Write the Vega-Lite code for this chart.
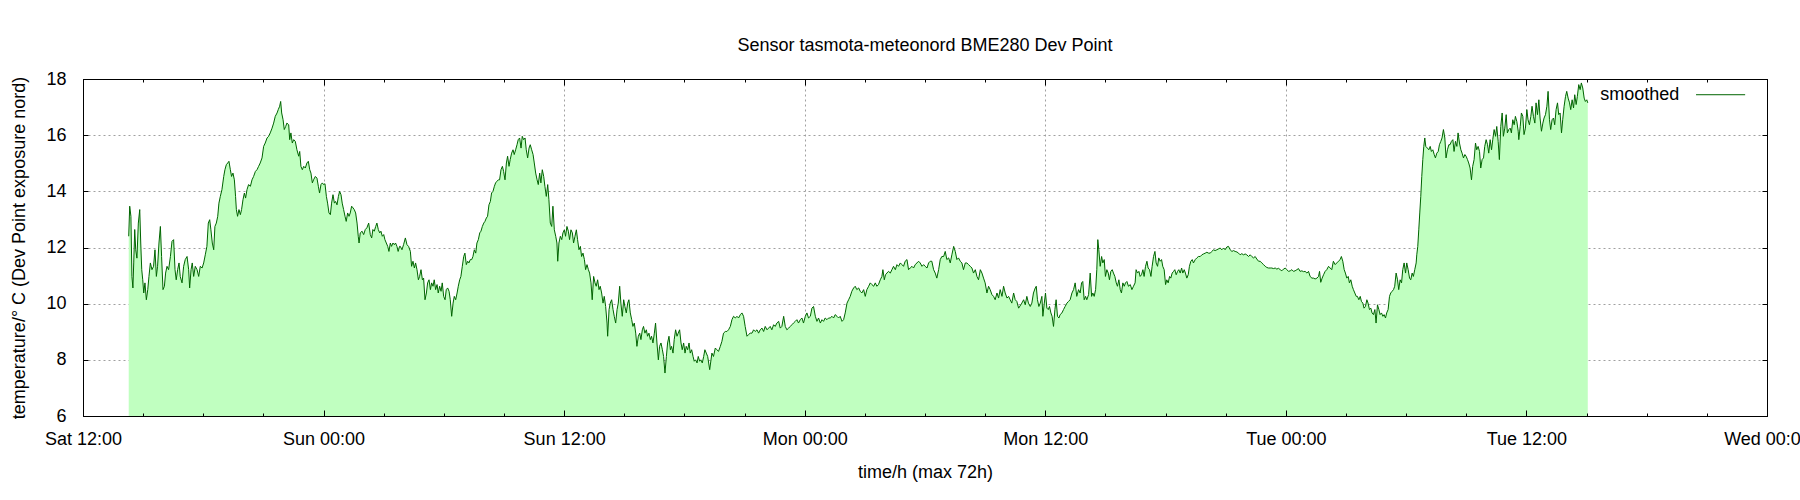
{
"$schema":"https://vega.github.io/schema/vega-lite/v6.json",
"width":1684,"height":337,
"autosize":{"type":"none"},
"padding":{"left":83,"top":79,"right":33,"bottom":84},
"background":"#ffffff",
"title":{"text":"Sensor tasmota-meteonord BME280 Dev Point","font":"Liberation Sans","fontSize":18,"fontWeight":"normal","color":"#000000","anchor":"middle","frame":"group","baseline":"alphabetic","offset":1},
"config":{
 "view":{"stroke":null},
 "font":"Liberation Sans",
 "axis":{"domainColor":"#000000","domainWidth":1,"tickColor":"#000000","tickWidth":1,"labelFont":"Liberation Sans","labelFontSize":18,"labelColor":"#000000","titleFont":"Liberation Sans","titleFontSize":18,"titleFontWeight":"normal","titleColor":"#000000","gridColor":"#a0a0a0","gridDash":[2,3],"gridWidth":1,"labelFlush":false,"labelOverlap":false,"labelBound":false}
},
"resolve":{"axis":{"x":"independent","y":"independent"}},
"data":{"values":[
{"h":2.28,"v":12.4},{"h":2.33,"v":13.47},{"h":2.39,"v":13.11},{"h":2.44,"v":10.97},{"h":2.49,"v":10.56},{"h":2.53,"v":11.45},{"h":2.58,"v":12.64},{"h":2.63,"v":11.92},{"h":2.69,"v":11.62},{"h":2.76,"v":12.87},{"h":2.83,"v":13.35},{"h":2.88,"v":12.16},{"h":2.93,"v":11.21},{"h":2.98,"v":10.85},{"h":3.03,"v":10.38},{"h":3.09,"v":10.74},{"h":3.16,"v":10.14},{"h":3.23,"v":10.5},{"h":3.29,"v":10.97},{"h":3.36,"v":11.45},{"h":3.44,"v":11.21},{"h":3.52,"v":11.33},{"h":3.59,"v":11.92},{"h":3.66,"v":10.97},{"h":3.72,"v":11.33},{"h":3.79,"v":12.16},{"h":3.86,"v":12.75},{"h":3.92,"v":11.68},{"h":3.99,"v":10.5},{"h":4.06,"v":10.62},{"h":4.12,"v":11.09},{"h":4.19,"v":11.33},{"h":4.27,"v":11.21},{"h":4.36,"v":11.68},{"h":4.44,"v":12.22},{"h":4.52,"v":12.28},{"h":4.59,"v":11.21},{"h":4.65,"v":10.85},{"h":4.72,"v":11.21},{"h":4.79,"v":11.45},{"h":4.85,"v":10.97},{"h":4.94,"v":10.74},{"h":5.02,"v":11.33},{"h":5.1,"v":11.57},{"h":5.19,"v":11.68},{"h":5.27,"v":11.21},{"h":5.32,"v":10.56},{"h":5.39,"v":11.21},{"h":5.45,"v":11.45},{"h":5.52,"v":10.97},{"h":5.6,"v":11.33},{"h":5.69,"v":11.21},{"h":5.77,"v":10.97},{"h":5.85,"v":11.33},{"h":5.94,"v":11.27},{"h":6.02,"v":11.45},{"h":6.1,"v":11.74},{"h":6.18,"v":12.04},{"h":6.25,"v":12.87},{"h":6.32,"v":12.99},{"h":6.38,"v":12.63},{"h":6.45,"v":12.16},{"h":6.52,"v":11.92},{"h":6.58,"v":12.75},{"h":6.65,"v":12.87},{"h":6.72,"v":13.11},{"h":6.78,"v":13.58},{"h":6.85,"v":13.82},{"h":6.93,"v":14.06},{"h":7.02,"v":14.53},{"h":7.08,"v":14.77},{"h":7.15,"v":14.95},{"h":7.22,"v":15.01},{"h":7.28,"v":15.07},{"h":7.35,"v":14.77},{"h":7.41,"v":14.53},{"h":7.48,"v":14.65},{"h":7.55,"v":14.41},{"h":7.61,"v":13.82},{"h":7.65,"v":13.35},{"h":7.71,"v":13.11},{"h":7.78,"v":13.35},{"h":7.85,"v":13.17},{"h":7.91,"v":13.35},{"h":7.98,"v":13.7},{"h":8.05,"v":13.94},{"h":8.11,"v":13.76},{"h":8.18,"v":14.06},{"h":8.26,"v":14.24},{"h":8.35,"v":14.18},{"h":8.43,"v":14.41},{"h":8.51,"v":14.53},{"h":8.6,"v":14.71},{"h":8.68,"v":14.77},{"h":8.76,"v":14.89},{"h":8.84,"v":15.01},{"h":8.93,"v":15.19},{"h":9.01,"v":15.6},{"h":9.09,"v":15.72},{"h":9.18,"v":15.9},{"h":9.26,"v":15.96},{"h":9.34,"v":16.08},{"h":9.43,"v":16.25},{"h":9.51,"v":16.43},{"h":9.59,"v":16.67},{"h":9.68,"v":16.79},{"h":9.74,"v":16.91},{"h":9.81,"v":17.03},{"h":9.86,"v":17.2},{"h":9.91,"v":16.79},{"h":9.98,"v":16.55},{"h":10.04,"v":16.2},{"h":10.11,"v":16.31},{"h":10.17,"v":16.43},{"h":10.26,"v":16.37},{"h":10.31,"v":15.84},{"h":10.37,"v":16.08},{"h":10.44,"v":15.72},{"h":10.51,"v":15.84},{"h":10.59,"v":15.78},{"h":10.67,"v":15.48},{"h":10.76,"v":15.25},{"h":10.81,"v":15.42},{"h":10.87,"v":14.89},{"h":10.94,"v":14.77},{"h":11.01,"v":14.89},{"h":11.09,"v":14.83},{"h":11.17,"v":15.01},{"h":11.24,"v":15.07},{"h":11.31,"v":14.77},{"h":11.37,"v":14.65},{"h":11.44,"v":14.3},{"h":11.5,"v":14.41},{"h":11.59,"v":14.53},{"h":11.67,"v":14.47},{"h":11.74,"v":14.18},{"h":11.8,"v":13.94},{"h":11.87,"v":14.24},{"h":11.94,"v":14.3},{"h":12.0,"v":14.24},{"h":12.07,"v":14.27},{"h":12.14,"v":13.82},{"h":12.2,"v":13.58},{"h":12.27,"v":13.23},{"h":12.34,"v":13.17},{"h":12.4,"v":13.58},{"h":12.47,"v":13.88},{"h":12.54,"v":13.58},{"h":12.6,"v":13.64},{"h":12.67,"v":13.52},{"h":12.74,"v":13.82},{"h":12.8,"v":14.0},{"h":12.87,"v":13.88},{"h":12.93,"v":13.58},{"h":13.0,"v":13.35},{"h":13.07,"v":13.11},{"h":13.13,"v":12.93},{"h":13.2,"v":13.23},{"h":13.27,"v":13.11},{"h":13.33,"v":13.23},{"h":13.4,"v":13.47},{"h":13.47,"v":13.41},{"h":13.53,"v":13.35},{"h":13.6,"v":13.23},{"h":13.67,"v":12.87},{"h":13.73,"v":12.4},{"h":13.77,"v":12.16},{"h":13.83,"v":12.52},{"h":13.92,"v":12.58},{"h":14.0,"v":12.46},{"h":14.08,"v":12.64},{"h":14.16,"v":12.7},{"h":14.25,"v":12.87},{"h":14.33,"v":12.46},{"h":14.4,"v":12.34},{"h":14.46,"v":12.64},{"h":14.53,"v":12.58},{"h":14.6,"v":12.75},{"h":14.66,"v":12.87},{"h":14.73,"v":12.64},{"h":14.8,"v":12.52},{"h":14.86,"v":12.58},{"h":14.93,"v":12.4},{"h":15.0,"v":12.46},{"h":15.06,"v":12.28},{"h":15.13,"v":12.16},{"h":15.2,"v":12.04},{"h":15.26,"v":11.86},{"h":15.33,"v":12.16},{"h":15.39,"v":12.04},{"h":15.46,"v":12.16},{"h":15.53,"v":12.1},{"h":15.59,"v":12.16},{"h":15.66,"v":12.04},{"h":15.72,"v":11.86},{"h":15.79,"v":12.04},
{"h":15.83,"v":12.04},{"h":15.91,"v":11.92},{"h":15.99,"v":12.1},{"h":16.08,"v":12.34},{"h":16.16,"v":12.1},{"h":16.24,"v":12.04},{"h":16.33,"v":11.86},{"h":16.39,"v":11.33},{"h":16.46,"v":11.51},{"h":16.53,"v":11.27},{"h":16.59,"v":11.45},{"h":16.66,"v":11.21},{"h":16.73,"v":10.85},{"h":16.79,"v":10.97},{"h":16.86,"v":11.21},{"h":16.93,"v":10.85},{"h":16.99,"v":10.91},{"h":17.06,"v":10.14},{"h":17.13,"v":10.38},{"h":17.19,"v":10.74},{"h":17.26,"v":10.85},{"h":17.33,"v":10.5},{"h":17.39,"v":10.74},{"h":17.46,"v":10.62},{"h":17.52,"v":10.85},{"h":17.59,"v":10.5},{"h":17.66,"v":10.68},{"h":17.72,"v":10.38},{"h":17.79,"v":10.62},{"h":17.86,"v":10.44},{"h":17.92,"v":10.74},{"h":17.99,"v":10.26},{"h":18.06,"v":10.14},{"h":18.12,"v":10.5},{"h":18.19,"v":10.56},{"h":18.26,"v":10.44},{"h":18.32,"v":10.14},{"h":18.39,"v":9.55},{"h":18.46,"v":10.02},{"h":18.52,"v":10.26},{"h":18.59,"v":10.14},{"h":18.66,"v":10.38},{"h":18.72,"v":10.62},{"h":18.79,"v":10.85},{"h":18.85,"v":10.97},{"h":18.92,"v":11.33},{"h":18.99,"v":11.68},{"h":19.05,"v":11.8},{"h":19.12,"v":11.39},{"h":19.19,"v":11.51},{"h":19.25,"v":11.45},{"h":19.32,"v":11.57},{"h":19.39,"v":11.57},{"h":19.45,"v":11.68},{"h":19.52,"v":11.92},{"h":19.59,"v":11.8},{"h":19.65,"v":12.16},{"h":19.72,"v":12.28},{"h":19.79,"v":12.52},{"h":19.85,"v":12.58},{"h":19.92,"v":12.75},{"h":19.99,"v":12.87},{"h":20.05,"v":12.93},{"h":20.12,"v":13.05},{"h":20.18,"v":13.11},{"h":20.25,"v":13.52},{"h":20.32,"v":13.64},{"h":20.38,"v":13.94},{"h":20.45,"v":14.0},{"h":20.52,"v":14.18},{"h":20.58,"v":14.3},{"h":20.65,"v":14.36},{"h":20.72,"v":14.41},{"h":20.78,"v":14.41},{"h":20.85,"v":14.77},{"h":20.92,"v":14.89},{"h":20.98,"v":14.71},{"h":21.05,"v":14.41},{"h":21.12,"v":15.01},{"h":21.18,"v":15.25},{"h":21.25,"v":14.89},{"h":21.31,"v":15.13},{"h":21.38,"v":15.36},{"h":21.45,"v":15.48},{"h":21.51,"v":15.31},{"h":21.58,"v":15.48},{"h":21.65,"v":15.66},{"h":21.71,"v":15.84},{"h":21.78,"v":15.9},{"h":21.85,"v":15.54},{"h":21.91,"v":15.96},{"h":21.98,"v":15.84},{"h":22.05,"v":15.9},{"h":22.11,"v":15.48},{"h":22.18,"v":15.19},{"h":22.25,"v":15.54},{"h":22.31,"v":15.66},{"h":22.38,"v":15.48},{"h":22.45,"v":15.31},{"h":22.51,"v":15.01},{"h":22.58,"v":14.65},{"h":22.65,"v":14.41},{"h":22.71,"v":14.24},{"h":22.78,"v":14.65},{"h":22.84,"v":14.3},{"h":22.91,"v":14.77},{"h":22.98,"v":14.53},{"h":23.04,"v":14.18},{"h":23.11,"v":13.82},{"h":23.18,"v":14.24},{"h":23.24,"v":13.7},{"h":23.31,"v":12.87},{"h":23.38,"v":12.75},{"h":23.44,"v":13.47},{"h":23.51,"v":12.63},{"h":23.58,"v":12.4},{"h":23.64,"v":12.16},{"h":23.68,"v":11.51},{"h":23.74,"v":12.16},{"h":23.81,"v":12.4},{"h":23.88,"v":12.28},{"h":23.94,"v":12.52},{"h":24.01,"v":12.63},{"h":24.07,"v":12.4},{"h":24.14,"v":12.75},{"h":24.21,"v":12.58},{"h":24.27,"v":12.28},{"h":24.34,"v":12.63},{"h":24.41,"v":12.52},{"h":24.47,"v":12.16},{"h":24.54,"v":12.4},{"h":24.61,"v":12.63},{"h":24.67,"v":12.28},{"h":24.74,"v":11.92},{"h":24.81,"v":12.04},{"h":24.87,"v":11.68},{"h":24.94,"v":11.8},{"h":25.01,"v":11.57},{"h":25.07,"v":11.21},{"h":25.14,"v":11.39},{"h":25.21,"v":11.21},{"h":25.27,"v":11.09},{"h":25.34,"v":10.74},{"h":25.4,"v":10.14},{"h":25.47,"v":10.97},{"h":25.54,"v":10.74},{"h":25.6,"v":10.62},{"h":25.67,"v":10.85},{"h":25.74,"v":10.5},{"h":25.8,"v":10.62},{"h":25.87,"v":10.38},{"h":25.94,"v":10.02},{"h":26.0,"v":10.26},{"h":26.07,"v":9.9},{"h":26.14,"v":9.31},{"h":26.17,"v":8.84},{"h":26.24,"v":9.79},{"h":26.3,"v":10.02},{"h":26.37,"v":10.14},{"h":26.44,"v":9.79},{"h":26.5,"v":9.55},{"h":26.57,"v":9.31},{"h":26.64,"v":9.79},{"h":26.7,"v":10.02},{"h":26.77,"v":10.62},{"h":26.83,"v":10.02},{"h":26.9,"v":9.55},{"h":26.97,"v":10.14},{"h":27.03,"v":9.9},{"h":27.1,"v":9.67},{"h":27.17,"v":10.02},{"h":27.23,"v":10.14},{"h":27.3,"v":9.67},{"h":27.37,"v":9.43},{"h":27.43,"v":9.19},{"h":27.5,"v":9.31},{"h":27.57,"v":8.95},{"h":27.63,"v":8.48},{"h":27.7,"v":8.84},{"h":27.77,"v":8.95},{"h":27.83,"v":8.72},{"h":27.9,"v":9.07},{"h":27.96,"v":9.19},{"h":28.03,"v":8.95},{"h":28.1,"v":9.07},{"h":28.16,"v":8.84},{"h":28.23,"v":8.95},{"h":28.3,"v":8.72},{"h":28.36,"v":8.84},{"h":28.43,"v":8.6},{"h":28.5,"v":8.95},{"h":28.56,"v":9.31},{"h":28.63,"v":8.6},{"h":28.7,"v":8.0},{"h":28.76,"v":8.48},{"h":28.83,"v":8.6},{"h":28.9,"v":8.36},{"h":28.96,"v":8.12},{"h":29.03,"v":7.53},{"h":29.1,"v":8.12},{"h":29.16,"v":8.6},{"h":29.23,"v":8.84},{"h":29.3,"v":8.36},{"h":29.36,"v":8.48},{"h":29.43,"v":8.24},{"h":29.49,"v":8.72},{"h":29.56,"v":9.07},{"h":29.63,"v":8.84},{"h":29.69,"v":8.95},{"h":29.76,"v":9.07},{"h":29.83,"v":8.6},{"h":29.89,"v":8.36},{"h":29.96,"v":8.6},{"h":30.03,"v":8.24},{"h":30.09,"v":8.48},{"h":30.16,"v":8.36},{"h":30.23,"v":8.6},{"h":30.29,"v":8.24},{"h":30.36,"v":8.36},{"h":30.43,"v":8.12},{"h":30.49,"v":7.95},{"h":30.56,"v":8.0},{"h":30.63,"v":7.89},{"h":30.69,"v":8.12},{"h":30.76,"v":7.95},{"h":30.82,"v":8.0},{"h":30.89,"v":7.89},{"h":30.96,"v":8.12},{"h":31.02,"v":8.36},{"h":31.09,"v":8.24},{"h":31.16,"v":8.12},{"h":31.26,"v":7.65},
{"h":31.37,"v":8.24},{"h":31.45,"v":8.12},{"h":31.54,"v":8.42},{"h":31.62,"v":8.36},{"h":31.7,"v":8.3},{"h":31.79,"v":8.48},{"h":31.87,"v":8.66},{"h":31.95,"v":8.95},{"h":32.04,"v":9.01},{"h":32.12,"v":9.01},{"h":32.2,"v":9.07},{"h":32.29,"v":9.19},{"h":32.37,"v":9.43},{"h":32.45,"v":9.55},{"h":32.54,"v":9.49},{"h":32.62,"v":9.55},{"h":32.7,"v":9.49},{"h":32.79,"v":9.61},{"h":32.87,"v":9.67},{"h":32.95,"v":9.55},{"h":33.03,"v":9.19},{"h":33.12,"v":8.84},{"h":33.2,"v":8.9},{"h":33.28,"v":8.95},{"h":33.37,"v":8.95},{"h":33.45,"v":9.07},{"h":33.53,"v":9.01},{"h":33.62,"v":9.07},{"h":33.7,"v":8.95},{"h":33.78,"v":9.07},{"h":33.87,"v":9.13},{"h":33.95,"v":9.01},{"h":34.03,"v":9.19},{"h":34.12,"v":9.07},{"h":34.2,"v":9.13},{"h":34.28,"v":9.19},{"h":34.36,"v":9.07},{"h":34.45,"v":9.25},{"h":34.53,"v":9.19},{"h":34.61,"v":9.31},{"h":34.7,"v":9.37},{"h":34.78,"v":9.13},{"h":34.86,"v":9.19},{"h":34.95,"v":9.55},{"h":35.03,"v":9.19},{"h":35.11,"v":9.07},{"h":35.2,"v":9.13},{"h":35.28,"v":9.19},{"h":35.36,"v":9.25},{"h":35.44,"v":9.31},{"h":35.53,"v":9.37},{"h":35.61,"v":9.43},{"h":35.69,"v":9.31},{"h":35.78,"v":9.43},{"h":35.86,"v":9.49},{"h":35.94,"v":9.31},{"h":36.03,"v":9.55},{"h":36.11,"v":9.67},{"h":36.19,"v":9.49},{"h":36.28,"v":9.55},{"h":36.36,"v":9.84},{"h":36.44,"v":9.9},{"h":36.53,"v":9.55},{"h":36.61,"v":9.37},{"h":36.69,"v":9.49},{"h":36.78,"v":9.31},{"h":36.86,"v":9.43},{"h":36.94,"v":9.37},{"h":37.02,"v":9.49},{"h":37.11,"v":9.43},{"h":37.19,"v":9.49},{"h":37.27,"v":9.49},{"h":37.36,"v":9.55},{"h":37.44,"v":9.49},{"h":37.52,"v":9.61},{"h":37.61,"v":9.55},{"h":37.69,"v":9.49},{"h":37.77,"v":9.55},{"h":37.86,"v":9.37},{"h":37.94,"v":9.43},{"h":38.02,"v":9.67},{"h":38.11,"v":10.02},{"h":38.19,"v":10.14},{"h":38.27,"v":10.26},{"h":38.35,"v":10.44},{"h":38.44,"v":10.56},{"h":38.52,"v":10.62},{"h":38.6,"v":10.5},{"h":38.69,"v":10.56},{"h":38.77,"v":10.44},{"h":38.85,"v":10.38},{"h":38.94,"v":10.5},{"h":39.02,"v":10.26},{"h":39.1,"v":10.5},{"h":39.19,"v":10.62},{"h":39.27,"v":10.74},{"h":39.35,"v":10.68},{"h":39.44,"v":10.62},{"h":39.52,"v":10.74},{"h":39.6,"v":10.62},{"h":39.68,"v":10.68},{"h":39.77,"v":10.85},{"h":39.85,"v":10.97},{"h":39.9,"v":11.21},{"h":39.97,"v":10.85},{"h":40.03,"v":11.03},{"h":40.1,"v":11.09},{"h":40.18,"v":11.15},{"h":40.27,"v":11.09},{"h":40.35,"v":11.21},{"h":40.43,"v":11.33},{"h":40.52,"v":11.21},{"h":40.6,"v":11.39},{"h":40.68,"v":11.33},{"h":40.77,"v":11.45},{"h":40.85,"v":11.39},{"h":40.93,"v":11.33},{"h":41.01,"v":11.51},{"h":41.1,"v":11.57},{"h":41.18,"v":11.21},{"h":41.26,"v":11.27},{"h":41.35,"v":11.33},{"h":41.43,"v":11.27},{"h":41.51,"v":11.39},{"h":41.6,"v":11.45},{"h":41.68,"v":11.51},{"h":41.76,"v":11.45},{"h":41.85,"v":11.33},{"h":41.93,"v":11.39},{"h":42.01,"v":11.33},{"h":42.1,"v":11.27},{"h":42.18,"v":11.45},{"h":42.26,"v":11.51},{"h":42.34,"v":11.51},{"h":42.43,"v":11.21},{"h":42.51,"v":11.09},{"h":42.59,"v":10.91},{"h":42.68,"v":11.21},{"h":42.76,"v":11.57},{"h":42.84,"v":11.68},{"h":42.93,"v":11.68},{"h":43.01,"v":11.86},{"h":43.09,"v":11.57},{"h":43.18,"v":11.63},{"h":43.26,"v":11.45},{"h":43.34,"v":11.74},{"h":43.43,"v":12.04},{"h":43.51,"v":11.86},{"h":43.59,"v":11.57},{"h":43.67,"v":11.63},{"h":43.76,"v":11.51},{"h":43.84,"v":11.45},{"h":43.92,"v":11.21},{"h":44.01,"v":11.45},{"h":44.09,"v":11.45},{"h":44.17,"v":11.39},{"h":44.26,"v":11.33},{"h":44.34,"v":11.27},{"h":44.42,"v":11.09},{"h":44.51,"v":11.21},{"h":44.59,"v":10.97},{"h":44.67,"v":10.85},{"h":44.76,"v":11.21},{"h":44.84,"v":11.09},{"h":44.92,"v":10.91},{"h":45.0,"v":10.74},{"h":45.09,"v":10.38},{"h":45.17,"v":10.62},{"h":45.25,"v":10.5},{"h":45.34,"v":10.32},{"h":45.42,"v":10.26},{"h":45.5,"v":10.14},{"h":45.59,"v":10.38},{"h":45.67,"v":10.2},{"h":45.75,"v":10.5},{"h":45.84,"v":10.26},{"h":45.92,"v":10.62},{"h":46.0,"v":10.38},{"h":46.09,"v":10.2},{"h":46.17,"v":10.26},{"h":46.25,"v":10.14},{"h":46.33,"v":10.02},{"h":46.42,"v":10.38},{"h":46.5,"v":10.14},{"h":46.58,"v":10.08},{"h":46.67,"v":9.84},
{"h":46.83,"v":10.02},{"h":46.92,"v":10.14},{"h":47.0,"v":9.96},{"h":47.08,"v":10.26},{"h":47.16,"v":10.02},{"h":47.25,"v":9.9},{"h":47.33,"v":10.02},{"h":47.41,"v":10.38},{"h":47.5,"v":10.56},{"h":47.55,"v":10.62},{"h":47.61,"v":10.14},{"h":47.68,"v":9.9},{"h":47.75,"v":10.02},{"h":47.83,"v":10.26},{"h":47.88,"v":9.55},{"h":47.95,"v":10.02},{"h":48.01,"v":10.38},{"h":48.08,"v":9.84},{"h":48.15,"v":9.79},{"h":48.21,"v":9.9},{"h":48.28,"v":9.67},{"h":48.34,"v":9.55},{"h":48.41,"v":9.19},{"h":48.48,"v":9.79},{"h":48.54,"v":10.14},{"h":48.61,"v":9.55},{"h":48.68,"v":9.49},{"h":48.74,"v":9.61},{"h":48.83,"v":9.67},{"h":48.91,"v":9.79},{"h":48.99,"v":9.9},{"h":49.08,"v":10.02},{"h":49.16,"v":10.08},{"h":49.24,"v":10.14},{"h":49.33,"v":10.38},{"h":49.41,"v":10.5},{"h":49.49,"v":10.74},{"h":49.57,"v":10.26},{"h":49.66,"v":10.5},{"h":49.74,"v":10.38},{"h":49.81,"v":10.74},{"h":49.87,"v":10.79},{"h":49.94,"v":10.14},{"h":50.01,"v":10.26},{"h":50.07,"v":10.14},{"h":50.16,"v":10.32},{"h":50.24,"v":11.09},{"h":50.31,"v":10.26},{"h":50.37,"v":10.38},{"h":50.44,"v":10.26},{"h":50.51,"v":10.5},{"h":50.57,"v":11.21},{"h":50.62,"v":12.28},{"h":50.67,"v":11.92},{"h":50.74,"v":11.33},{"h":50.81,"v":11.68},{"h":50.87,"v":11.45},{"h":50.94,"v":11.57},{"h":51.0,"v":10.97},{"h":51.07,"v":11.21},{"h":51.14,"v":11.09},{"h":51.2,"v":10.85},{"h":51.27,"v":11.15},{"h":51.34,"v":11.21},{"h":51.4,"v":11.09},{"h":51.47,"v":10.97},{"h":51.54,"v":10.74},{"h":51.6,"v":10.62},{"h":51.67,"v":10.85},{"h":51.74,"v":10.5},{"h":51.8,"v":10.38},{"h":51.87,"v":10.74},{"h":51.94,"v":10.62},{"h":52.0,"v":10.74},{"h":52.07,"v":10.79},{"h":52.15,"v":10.62},{"h":52.24,"v":10.68},{"h":52.32,"v":10.5},{"h":52.4,"v":10.62},{"h":52.48,"v":10.74},{"h":52.53,"v":11.21},{"h":52.6,"v":11.09},{"h":52.67,"v":11.15},{"h":52.73,"v":10.97},{"h":52.8,"v":11.03},{"h":52.87,"v":11.21},{"h":52.93,"v":10.97},{"h":53.0,"v":11.33},{"h":53.07,"v":11.51},{"h":53.13,"v":11.27},{"h":53.2,"v":11.21},{"h":53.27,"v":10.97},{"h":53.33,"v":11.33},{"h":53.4,"v":11.68},{"h":53.47,"v":11.86},{"h":53.53,"v":11.45},{"h":53.6,"v":11.33},{"h":53.66,"v":11.63},{"h":53.73,"v":11.51},{"h":53.8,"v":11.57},{"h":53.86,"v":11.33},{"h":53.93,"v":11.21},{"h":54.0,"v":10.68},{"h":54.06,"v":10.85},{"h":54.13,"v":10.74},{"h":54.2,"v":10.97},{"h":54.26,"v":10.91},{"h":54.33,"v":11.09},{"h":54.4,"v":11.15},{"h":54.46,"v":11.21},{"h":54.53,"v":11.03},{"h":54.6,"v":11.15},{"h":54.66,"v":11.21},{"h":54.73,"v":11.09},{"h":54.8,"v":11.27},{"h":54.86,"v":11.09},{"h":54.93,"v":11.21},{"h":54.99,"v":11.09},{"h":55.06,"v":10.91},{"h":55.13,"v":11.03},{"h":55.19,"v":11.33},{"h":55.26,"v":11.51},{"h":55.33,"v":11.57},{"h":55.39,"v":11.45},{"h":55.48,"v":11.57},{"h":55.56,"v":11.63},{"h":55.64,"v":11.68},{"h":55.73,"v":11.68},{"h":55.81,"v":11.74},{"h":55.89,"v":11.77},{"h":55.98,"v":11.8},{"h":56.06,"v":11.83},{"h":56.14,"v":11.8},{"h":56.23,"v":11.8},{"h":56.31,"v":11.86},{"h":56.39,"v":11.92},{"h":56.47,"v":11.89},{"h":56.56,"v":11.92},{"h":56.64,"v":11.95},{"h":56.72,"v":11.98},{"h":56.81,"v":11.92},{"h":56.89,"v":11.98},{"h":56.97,"v":11.92},{"h":57.06,"v":12.02},{"h":57.14,"v":12.04},{"h":57.22,"v":11.92},{"h":57.31,"v":11.86},{"h":57.39,"v":11.89},{"h":57.47,"v":11.86},{"h":57.56,"v":11.84},{"h":57.64,"v":11.8},{"h":57.72,"v":11.74},{"h":57.8,"v":11.78},{"h":57.89,"v":11.74},{"h":57.97,"v":11.77},{"h":58.05,"v":11.74},{"h":58.14,"v":11.68},{"h":58.22,"v":11.74},{"h":58.3,"v":11.68},{"h":58.39,"v":11.63},{"h":58.47,"v":11.68},{"h":58.55,"v":11.59},{"h":58.64,"v":11.51},{"h":58.72,"v":11.51},{"h":58.8,"v":11.45},{"h":58.89,"v":11.39},{"h":58.97,"v":11.33},{"h":59.05,"v":11.29},{"h":59.13,"v":11.27},{"h":59.22,"v":11.27},{"h":59.3,"v":11.27},{"h":59.38,"v":11.25},{"h":59.47,"v":11.27},{"h":59.55,"v":11.23},{"h":59.63,"v":11.26},{"h":59.72,"v":11.21},{"h":59.8,"v":11.17},{"h":59.88,"v":11.23},{"h":59.97,"v":11.27},{"h":60.05,"v":11.21},{"h":60.13,"v":11.15},{"h":60.22,"v":11.17},{"h":60.3,"v":11.21},{"h":60.38,"v":11.15},{"h":60.46,"v":11.17},{"h":60.55,"v":11.21},{"h":60.63,"v":11.25},{"h":60.71,"v":11.15},{"h":60.8,"v":11.17},{"h":60.88,"v":11.14},{"h":60.96,"v":11.15},{"h":61.05,"v":11.09},{"h":61.13,"v":11.15},{"h":61.21,"v":10.97},{"h":61.3,"v":10.91},{"h":61.38,"v":10.91},{"h":61.46,"v":10.88},{"h":61.55,"v":10.91},{"h":61.63,"v":10.97},{"h":61.68,"v":11.15},{"h":61.74,"v":10.76},{"h":61.81,"v":10.91},{"h":61.88,"v":11.03},{"h":61.96,"v":11.15},{"h":62.04,"v":11.21},{"h":62.13,"v":11.33},
{"h":62.29,"v":11.21},{"h":62.37,"v":11.51},{"h":62.46,"v":11.39},{"h":62.54,"v":11.45},{"h":62.62,"v":11.51},{"h":62.71,"v":11.57},{"h":62.77,"v":11.68},{"h":62.84,"v":11.51},{"h":62.91,"v":11.21},{"h":62.97,"v":11.09},{"h":63.04,"v":10.91},{"h":63.11,"v":10.97},{"h":63.17,"v":10.74},{"h":63.24,"v":10.85},{"h":63.31,"v":10.62},{"h":63.37,"v":10.5},{"h":63.44,"v":10.38},{"h":63.51,"v":10.26},{"h":63.57,"v":10.26},{"h":63.64,"v":10.14},{"h":63.71,"v":10.26},{"h":63.77,"v":10.08},{"h":63.84,"v":10.02},{"h":63.9,"v":9.84},{"h":63.97,"v":9.9},{"h":64.04,"v":10.14},{"h":64.1,"v":10.02},{"h":64.17,"v":9.79},{"h":64.24,"v":9.84},{"h":64.3,"v":9.67},{"h":64.37,"v":9.61},{"h":64.44,"v":9.79},{"h":64.5,"v":9.31},{"h":64.57,"v":9.96},{"h":64.64,"v":9.79},{"h":64.7,"v":9.61},{"h":64.77,"v":9.67},{"h":64.84,"v":9.55},{"h":64.9,"v":9.61},{"h":64.97,"v":9.49},{"h":65.03,"v":9.67},{"h":65.1,"v":9.79},{"h":65.17,"v":10.26},{"h":65.23,"v":10.38},{"h":65.3,"v":10.44},{"h":65.37,"v":10.5},{"h":65.43,"v":10.62},{"h":65.5,"v":11.09},{"h":65.57,"v":10.85},{"h":65.63,"v":10.5},{"h":65.7,"v":10.85},{"h":65.77,"v":10.74},{"h":65.83,"v":11.21},{"h":65.9,"v":11.45},{"h":65.97,"v":11.09},{"h":66.03,"v":11.45},{"h":66.1,"v":11.21},{"h":66.17,"v":10.91},{"h":66.23,"v":10.85},{"h":66.3,"v":11.09},{"h":66.36,"v":10.97},{"h":66.43,"v":11.21},{"h":66.5,"v":11.45},{"h":66.53,"v":11.74},{"h":66.58,"v":12.04},{"h":66.63,"v":12.63},{"h":66.68,"v":13.23},{"h":66.73,"v":13.82},{"h":66.78,"v":14.53},{"h":66.83,"v":15.13},{"h":66.88,"v":15.6},{"h":66.93,"v":15.9},{"h":66.98,"v":15.6},{"h":67.06,"v":15.54},{"h":67.13,"v":15.48},{"h":67.2,"v":15.6},{"h":67.26,"v":15.42},{"h":67.33,"v":15.48},{"h":67.4,"v":15.31},{"h":67.46,"v":15.19},{"h":67.53,"v":15.36},{"h":67.6,"v":15.42},{"h":67.66,"v":15.66},{"h":67.73,"v":15.78},{"h":67.79,"v":15.9},{"h":67.86,"v":16.2},{"h":67.93,"v":15.9},{"h":67.99,"v":15.19},{"h":68.06,"v":15.48},{"h":68.13,"v":15.66},{"h":68.19,"v":15.66},{"h":68.26,"v":15.78},{"h":68.33,"v":15.84},{"h":68.39,"v":15.42},{"h":68.46,"v":15.78},{"h":68.53,"v":15.6},{"h":68.59,"v":16.08},{"h":68.66,"v":15.72},{"h":68.73,"v":15.48},{"h":68.79,"v":15.36},{"h":68.86,"v":15.19},{"h":68.93,"v":15.31},{"h":68.99,"v":15.25},{"h":69.06,"v":15.13},{"h":69.12,"v":15.01},{"h":69.19,"v":14.83},{"h":69.26,"v":14.41},{"h":69.32,"v":14.89},{"h":69.39,"v":15.13},{"h":69.46,"v":15.72},{"h":69.52,"v":15.48},{"h":69.59,"v":15.6},{"h":69.66,"v":15.42},{"h":69.72,"v":14.83},{"h":69.79,"v":15.13},{"h":69.86,"v":15.19},{"h":69.92,"v":15.6},{"h":69.99,"v":15.84},{"h":70.06,"v":15.66},{"h":70.12,"v":15.36},{"h":70.19,"v":15.84},{"h":70.26,"v":15.48},{"h":70.32,"v":15.84},{"h":70.39,"v":16.2},{"h":70.46,"v":15.96},{"h":70.52,"v":16.31},{"h":70.59,"v":15.78},{"h":70.65,"v":15.13},{"h":70.72,"v":16.31},{"h":70.79,"v":16.79},{"h":70.85,"v":15.96},{"h":70.92,"v":16.25},{"h":70.99,"v":16.73},{"h":71.05,"v":16.08},{"h":71.12,"v":16.2},{"h":71.19,"v":16.25},{"h":71.25,"v":16.08},{"h":71.32,"v":16.55},{"h":71.39,"v":16.37},{"h":71.45,"v":16.67},{"h":71.52,"v":16.49},{"h":71.59,"v":16.14},{"h":71.62,"v":15.84},{"h":71.69,"v":16.31},{"h":71.75,"v":16.79},{"h":71.82,"v":16.67},{"h":71.88,"v":16.02},{"h":71.95,"v":16.25},{"h":72.02,"v":16.91},{"h":72.08,"v":16.55},{"h":72.15,"v":16.37},{"h":72.22,"v":16.67},{"h":72.28,"v":17.03},{"h":72.35,"v":16.67},{"h":72.42,"v":16.43},{"h":72.48,"v":17.15},{"h":72.55,"v":16.73},{"h":72.62,"v":17.26},{"h":72.68,"v":16.61},{"h":72.75,"v":16.14},{"h":72.82,"v":16.43},{"h":72.88,"v":16.61},{"h":72.95,"v":16.73},{"h":73.02,"v":17.03},{"h":73.08,"v":17.56},{"h":73.15,"v":16.55},{"h":73.21,"v":16.2},{"h":73.28,"v":16.55},{"h":73.35,"v":16.61},{"h":73.41,"v":16.37},{"h":73.48,"v":16.91},{"h":73.55,"v":17.15},{"h":73.61,"v":16.73},{"h":73.68,"v":16.79},{"h":73.75,"v":16.08},{"h":73.81,"v":16.55},{"h":73.88,"v":17.03},{"h":73.95,"v":17.38},{"h":74.01,"v":17.56},{"h":74.08,"v":17.32},{"h":74.15,"v":17.15},{"h":74.21,"v":16.91},{"h":74.28,"v":17.26},{"h":74.35,"v":16.97},{"h":74.41,"v":17.44},{"h":74.48,"v":17.09},{"h":74.54,"v":17.38},{"h":74.61,"v":17.8},{"h":74.68,"v":17.62},{"h":74.74,"v":17.86},{"h":74.81,"v":17.68},{"h":74.88,"v":17.32},{"h":74.94,"v":17.2},{"h":75.01,"v":17.26},{"h":75.06,"v":17.15}
]},
"layer":[
 {"mark":{"type":"area","color":"#c0ffc0","opacity":1,"strokeWidth":0},
  "encoding":{
   "x":{"field":"h","type":"quantitative","scale":{"domain":[0,84],"nice":false,"zero":false},
        "axis":{"orient":"bottom","values":[0,12,24,36,48,60,72,84],"ticks":false,"domain":false,"grid":true,"labelPadding":28,"labelBaseline":"alphabetic",
                "labelExpr":"['Sat 12:00','Sun 00:00','Sun 12:00','Mon 00:00','Mon 12:00','Tue 00:00','Tue 12:00','Wed 00:00'][round(datum.value/12)]",
                "title":"time/h (max 72h)","titleY":61,"titleBaseline":"alphabetic"}},
   "y":{"field":"v","type":"quantitative","scale":{"domain":[6,18],"nice":false,"zero":false},
        "axis":{"orient":"left","values":[6,8,10,12,14,16,18],"ticks":false,"domain":false,"grid":true,"labelPadding":17,"labelBaseline":"middle",
                "title":"temperature/° C (Dev Point exposure nord)","titleX":-59,"titleBaseline":"alphabetic"}},
   "y2":{"datum":6}}},
 {"mark":{"type":"line","color":"#006400","strokeWidth":1},
  "encoding":{
   "x":{"field":"h","type":"quantitative","scale":{"domain":[0,84],"nice":false,"zero":false},
        "axis":{"orient":"top","values":[0,3,6,9,12,15,18,21,24,27,30,33,36,39,42,45,48,51,54,57,60,63,66,69,72,75,78,81,84],"tickSize":-3,"labels":false,"grid":false,"domain":true,"title":null,"zindex":1}},
   "y":{"field":"v","type":"quantitative","scale":{"domain":[6,18],"nice":false,"zero":false},
        "axis":{"orient":"right","values":[6,8,10,12,14,16,18],"tickSize":-5,"labels":false,"grid":false,"domain":true,"title":null,"zindex":1}}}},
 {"data":{"values":[{"label":"smoothed"}]},
  "mark":{"type":"text","align":"left","baseline":"middle","fontSize":18,"font":"Liberation Sans","color":"#000000"},
  "encoding":{
   "text":{"field":"label"},
   "x":{"datum":75.68,"type":"quantitative","scale":{"domain":[0,84],"nice":false,"zero":false},
        "axis":{"orient":"bottom","values":[0,3,6,9,12,15,18,21,24,27,30,33,36,39,42,45,48,51,54,57,60,63,66,69,72,75,78,81,84],"tickSize":-3,"labels":false,"grid":false,"domain":true,"title":null,"zindex":1}},
   "y":{"datum":17.44,"type":"quantitative","scale":{"domain":[6,18],"nice":false,"zero":false},
        "axis":{"orient":"left","values":[6,8,10,12,14,16,18],"tickSize":-5,"labels":false,"grid":false,"domain":true,"title":null,"zindex":1}}}},
 {"data":{"values":[{"label":"smoothed"}]},
  "mark":{"type":"rule","color":"#006400","strokeWidth":1},
  "encoding":{
   "x":{"datum":80.46,"type":"quantitative","scale":{"domain":[0,84],"nice":false,"zero":false},
        "axis":{"orient":"top","values":[0,12,24,36,48,60,72,84],"tickSize":-6,"labels":false,"grid":false,"domain":false,"title":null,"zindex":1}},
   "x2":{"datum":82.91},
   "y":{"datum":17.44,"type":"quantitative","scale":{"domain":[6,18],"nice":false,"zero":false},"axis":null}}},
 {"data":{"values":[{"label":""}]},
  "mark":{"type":"text","fontSize":1},
  "encoding":{
   "text":{"field":"label"},
   "x":{"datum":80.46,"type":"quantitative","scale":{"domain":[0,84],"nice":false,"zero":false},
        "axis":{"orient":"bottom","values":[0,12,24,36,48,60,72,84],"tickSize":-6,"labels":false,"grid":false,"domain":false,"title":null,"zindex":1}},
   "y":{"datum":17.44,"type":"quantitative","scale":{"domain":[6,18],"nice":false,"zero":false},"axis":null}}}
]
}
